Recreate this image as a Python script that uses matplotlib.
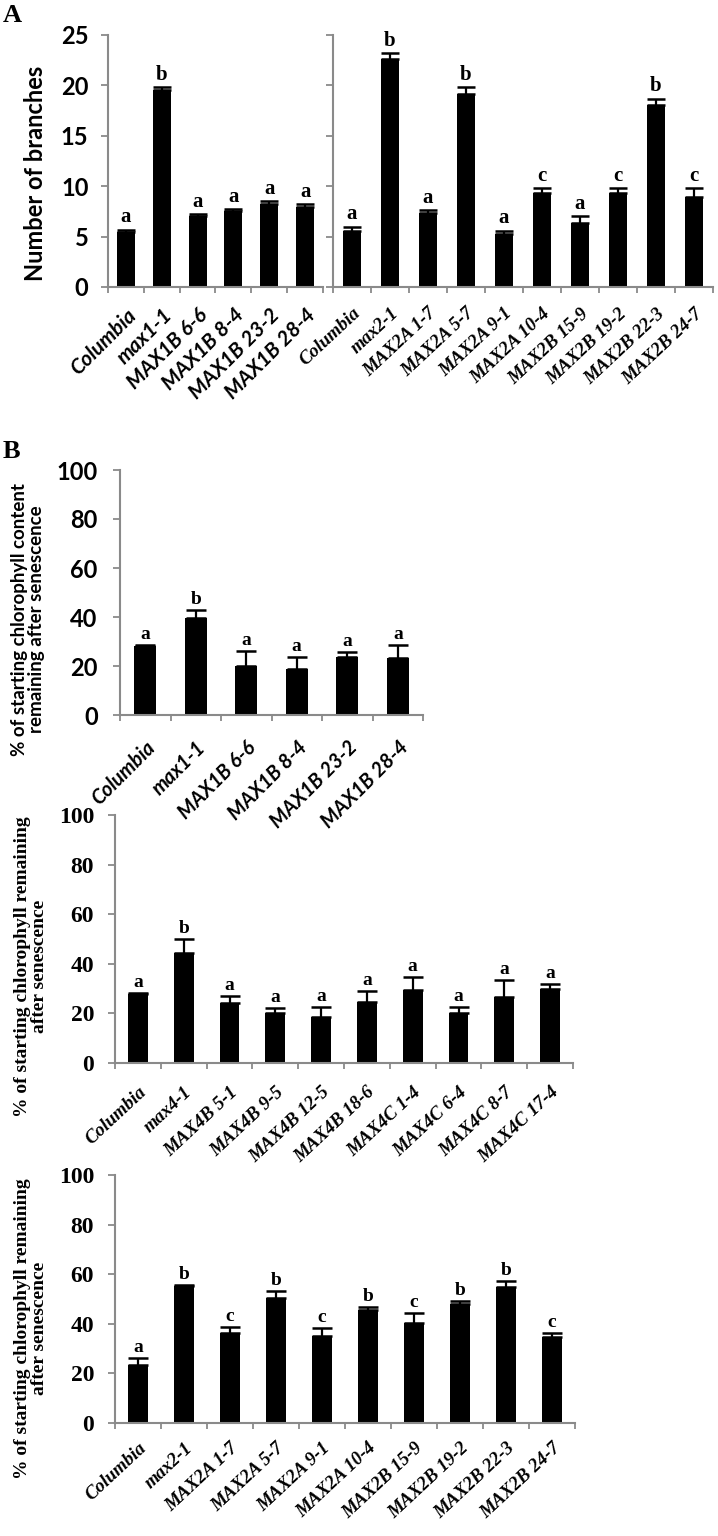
import matplotlib.pyplot as plt

# Panel A - number of branches
a_left_names = ["Columbia", "max1-1", "MAX1B 6-6", "MAX1B 8-4", "MAX1B 23-2", "MAX1B 28-4"]
a_left_vals = [5.5, 19.5, 7.0, 7.5, 8.2, 7.9]
a_left_err = [0.2, 0.3, 0.2, 0.2, 0.3, 0.3]
a_left_sig = ["a", "b", "a", "a", "a", "a"]

a_right_names = ["Columbia", "max2-1", "MAX2A 1-7", "MAX2A 5-7", "MAX2A 9-1", "MAX2A 10-4",
                 "MAX2B 15-9", "MAX2B 19-2", "MAX2B 22-3", "MAX2B 24-7"]
a_right_vals = [5.6, 22.6, 7.3, 19.1, 5.3, 9.3, 6.3, 9.3, 18.1, 8.9]
a_right_err = [0.4, 0.6, 0.3, 0.7, 0.3, 0.5, 0.7, 0.5, 0.6, 0.9]
a_right_sig = ["a", "b", "a", "b", "a", "c", "a", "c", "b", "c"]

# Panel B - chlorophyll remaining
b1_names = ["Columbia", "max1-1", "MAX1B 6-6", "MAX1B 8-4", "MAX1B 23-2", "MAX1B 28-4"]
b1_vals = [28.2, 39.6, 20.0, 18.8, 23.7, 23.2]
b1_err = [0.4, 3.3, 6.0, 4.9, 2.0, 5.2]
b1_sig = ["a", "b", "a", "a", "a", "a"]

b2_names = ["Columbia", "max4-1", "MAX4B 5-1", "MAX4B 9-5", "MAX4B 12-5", "MAX4B 18-6",
            "MAX4C 1-4", "MAX4C 6-4", "MAX4C 8-7", "MAX4C 17-4"]
b2_vals = [28.0, 44.3, 24.0, 20.0, 18.5, 24.6, 29.6, 20.0, 26.6, 29.8]
b2_err = [0.3, 5.7, 3.0, 2.0, 4.0, 4.4, 5.0, 2.6, 6.9, 2.1]
b2_sig = ["a", "b", "a", "a", "a", "a", "a", "a", "a", "a"]

b3_names = a_right_names
b3_vals = [23.4, 55.2, 36.3, 50.4, 35.1, 45.6, 40.3, 48.0, 54.8, 34.7]
b3_err = [2.8, 0.6, 2.4, 2.8, 3.2, 1.2, 4.1, 1.2, 2.5, 1.6]
b3_sig = ["a", "b", "c", "b", "c", "b", "c", "b", "b", "c"]

W, H = 718, 1536
SANS = "Lato"
SERIF = "Liberation Serif"


def make_axes(fig, x0, x1, ytop, ybot):
    ax = fig.add_axes([x0 / W, 1 - ybot / H, (x1 - x0) / W, (ybot - ytop) / H])
    ax.patch.set_alpha(0)  # so tick labels of the panel above are not hidden
    return ax


def bar_panel(ax, names, vals, errs, sig, ymax, ystep, tickfont, tickfs, labfont,
              labfs, sigfs, rot=43, bar_w=0.43, cap=6.5, xpad=14, ypad=9):
    n = len(names)
    x = list(range(n))
    ax.bar(x, vals, width=bar_w, color="black", zorder=2)
    ax.errorbar(x, vals, yerr=[[0] * n, errs], fmt="none", ecolor="black",
                elinewidth=1.6, capsize=cap, capthick=1.8, zorder=3)
    for xi, v, e, s in zip(x, vals, errs, sig):
        ax.annotate(s, (xi, v + e), xytext=(0, 1.5), textcoords="offset points",
                    ha="center", va="bottom", fontsize=sigfs, fontweight="bold",
                    family=SERIF)
    ax.set_xlim(-0.5, n - 0.5)
    ax.set_ylim(0, ymax)
    ax.set_yticks(range(0, ymax + 1, ystep))
    ax.set_yticklabels([str(t) for t in range(0, ymax + 1, ystep)],
                       fontsize=tickfs, fontweight="bold", family=tickfont)
    # boundary ticks on x, labels at bar centres
    ax.set_xticks([i - 0.5 for i in range(n + 1)])
    ax.set_xticklabels([])
    ax.set_xticks(x, minor=True)
    ax.set_xticklabels(names, minor=True, rotation=rot, ha="right",
                       rotation_mode="anchor", fontsize=labfs, fontweight="bold",
                       style="italic", family=labfont)
    ax.tick_params(axis="x", which="minor", length=0, pad=xpad)
    ax.tick_params(axis="x", which="major", length=4, width=1.3, color="#8a8a8a",
                   direction="out")
    ax.tick_params(axis="y", length=5, width=1.3, color="#8a8a8a", direction="out",
                   pad=ypad)
    for sp in ["top", "right"]:
        ax.spines[sp].set_visible(False)
    for sp in ["left", "bottom"]:
        ax.spines[sp].set_color("#8a8a8a")
        ax.spines[sp].set_linewidth(1.5)


fig = plt.figure(figsize=(W / 100, H / 100), dpi=100)

# ---- Panel A ----
ax = make_axes(fig, 108, 323, 35, 287)
bar_panel(ax, a_left_names, a_left_vals, a_left_err, a_left_sig, 25, 5,
          SANS, 17, SANS, 15, 15, rot=45, bar_w=0.5, xpad=13)
ax.set_ylabel("Number of branches", fontsize=17, fontweight="bold", family=SANS)
ax.yaxis.set_label_coords(-0.284, 0.45)

ax = make_axes(fig, 333, 713, 35, 287)
bar_panel(ax, a_right_names, a_right_vals, a_right_err, a_right_sig, 25, 5,
          SANS, 17, SERIF, 13.5, 15, bar_w=0.45, xpad=13)
ax.set_yticklabels([])

# ---- Panel B ----
ax = make_axes(fig, 120, 423, 470, 715)
bar_panel(ax, b1_names, b1_vals, b1_err, b1_sig, 100, 20,
          SANS, 17, SANS, 14.5, 14, rot=45, cap=7, xpad=16, ypad=11)
ax.set_ylabel("% of starting chlorophyll content\nremaining after senescence",
              fontsize=13.5, fontweight="bold", family=SANS, linespacing=1.0)
ax.yaxis.set_label_coords(-0.248, 0.39)

ax = make_axes(fig, 115, 573, 815, 1063)
bar_panel(ax, b2_names, b2_vals, b2_err, b2_sig, 100, 20,
          SERIF, 17, SERIF, 13.5, 14, cap=7, xpad=15, ypad=10)
ax.set_ylabel("% of starting chlorophyll remaining\nafter senescence",
              fontsize=14, fontweight="bold", family=SERIF, linespacing=1.0)
ax.yaxis.set_label_coords(-0.146, 0.39)

ax = make_axes(fig, 115, 575, 1175, 1423)
bar_panel(ax, b3_names, b3_vals, b3_err, b3_sig, 100, 20,
          SERIF, 17, SERIF, 13.5, 14, cap=7, xpad=12, ypad=10)
ax.set_ylabel("% of starting chlorophyll remaining\nafter senescence",
              fontsize=14, fontweight="bold", family=SERIF, linespacing=1.0)
ax.yaxis.set_label_coords(-0.146, 0.38)

fig.text(3 / W, 1 - 4 / H, "A", fontsize=19, fontweight="bold", family=SERIF,
         ha="left", va="top")
fig.text(3 / W, 1 - 440 / H, "B", fontsize=19, fontweight="bold", family=SERIF,
         ha="left", va="top")

fig.savefig("out.png", dpi=100)
